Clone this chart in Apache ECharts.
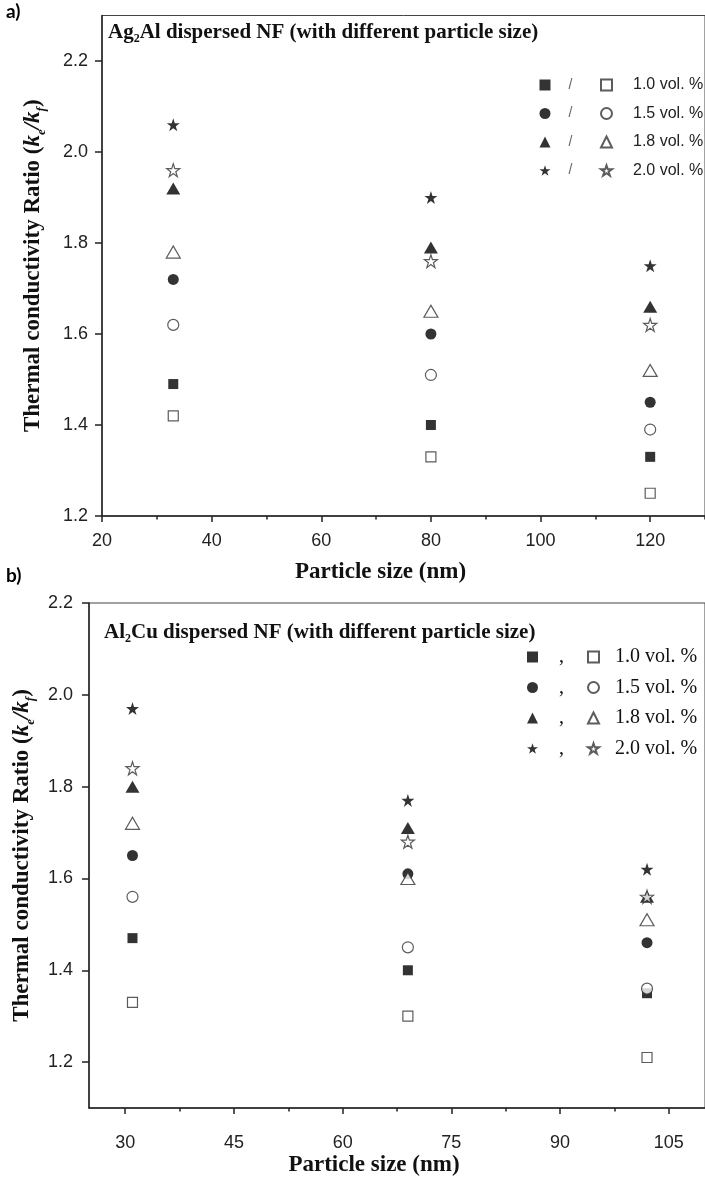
<!DOCTYPE html>
<html><head><meta charset="utf-8">
<script src="https://cdn.jsdelivr.net/npm/echarts@6/dist/echarts.min.js"></script>
<style>html,body{margin:0;padding:0;background:#fff}#c{width:705px;height:1178px}</style>
</head><body><div id="c"></div>
<script>
// ---------- Panel a) Ag2Al ----------
const sizesA = [33, 80, 120];
const aFill10 = [1.49, 1.40, 1.33];
const aFill15 = [1.72, 1.60, 1.45];
const aFill18 = [1.92, 1.79, 1.66];
const aFill20 = [2.06, 1.90, 1.75];
const aOpen10 = [1.42, 1.33, 1.25];
const aOpen15 = [1.62, 1.51, 1.39];
const aOpen18 = [1.78, 1.65, 1.52];
const aOpen20 = [1.96, 1.76, 1.62];
const aXTicks = [20, 40, 60, 80, 100, 120];
const aXMinor = [30, 50, 70, 90, 110, 130];
const aYTicks = [1.2, 1.4, 1.6, 1.8, 2.0, 2.2];
const aYMinor = [1.3, 1.5, 1.7, 1.9, 2.1, 2.3];

// ---------- Panel b) Al2Cu ----------
const sizesB = [31, 69, 102];
const bFill10 = [1.47, 1.40, 1.35];
const bFill15 = [1.65, 1.61, 1.46];
const bFill18 = [1.80, 1.71, 1.56];
const bFill20 = [1.97, 1.77, 1.62];
const bOpen10 = [1.33, 1.30, 1.21];
const bOpen15 = [1.56, 1.45, 1.36];
const bOpen18 = [1.72, 1.60, 1.51];
const bOpen20 = [1.84, 1.68, 1.56];
const bXTicks = [30, 45, 60, 75, 90, 105];
const bXMinor = [37.5, 52.5, 67.5, 82.5, 97.5];
const bYTicks = [1.2, 1.4, 1.6, 1.8, 2.0, 2.2];
const bYMinor = [1.1, 1.3, 1.5, 1.7, 1.9, 2.1];

const concs = ['1.0', '1.5', '1.8', '2.0'];

const STAR = 'path://M50,0 L61.8,35.3 L99,35.3 L69,57.3 L80.4,92.7 L50,70.8 L19.6,92.7 L31,57.3 L1,35.3 L38.2,35.3 Z';
const symbols = ['rect', 'circle', 'triangle', STAR];
const symSizes = [10, 11, [14, 12], 13];

const fillsA = [aFill10, aFill15, aFill18, aFill20];
const opensA = [aOpen10, aOpen15, aOpen18, aOpen20];
const fillsB = [bFill10, bFill15, bFill18, bFill20];
const opensB = [bOpen10, bOpen15, bOpen18, bOpen20];

function mkSeries(prefix, sizes, fills, opens, xi, yi) {
  const out = [];
  concs.forEach((c, i) => {
    out.push({
      name: 'f' + prefix + c, type: 'scatter', xAxisIndex: xi, yAxisIndex: yi,
      symbol: symbols[i], symbolSize: symSizes[i],
      itemStyle: { color: '#000', borderColor: '#000', borderWidth: 0 },
      data: sizes.map((s, k) => [s, fills[i][k]]), z: 3
    });
    out.push({
      name: 'o' + prefix + c, type: 'scatter', xAxisIndex: xi, yAxisIndex: yi,
      symbol: symbols[i], symbolSize: symSizes[i],
      itemStyle: { color: '#fff', borderColor: '#333', borderWidth: 1.2 },
      data: sizes.map((s, k) => [s, opens[i][k]]), z: 4
    });
  });
  return out;
}

const sansLbl = { fontFamily: 'Liberation Sans', fontSize: 18, color: '#222' };
const lineStyle = { color: '#222', width: 1.5 };

function mainX(grid, min, max, ticks, margin, gap) {
  return {
    type: 'value', gridIndex: grid, min: min, max: max, position: 'bottom',
    axisLine: { show: true, onZero: false, lineStyle: lineStyle },
    axisTick: { show: true, length: 6, customValues: ticks, lineStyle: lineStyle },
    axisLabel: Object.assign({ customValues: ticks, margin: margin, formatter: v => String(v) }, sansLbl),
    splitLine: { show: false },
    name: 'Particle size (nm)', nameLocation: 'middle', nameGap: gap,
    nameTextStyle: { fontFamily: 'Liberation Serif', fontWeight: 'bold', fontSize: 23, color: '#111', padding: [0, 46, 0, 0] }
  };
}
function minorX(grid, min, max, ticks) {
  return {
    type: 'value', gridIndex: grid, min: min, max: max, position: 'bottom',
    axisLine: { show: false }, axisLabel: { show: false }, splitLine: { show: false },
    axisTick: { show: true, length: 3.5, customValues: ticks, lineStyle: lineStyle }
  };
}
const yName = '{t|Thermal conductivity Ratio }{t|(}{k|k}{s|e}{k|/k}{s|f}{t|)}';
const yRich = {
  t: { fontFamily: 'Liberation Serif', fontWeight: 'bold', fontSize: 23, color: '#111', lineHeight: 30 },
  k: { fontFamily: 'Liberation Serif', fontWeight: 'bold', fontStyle: 'italic', fontSize: 23, color: '#111', lineHeight: 30 },
  s: { fontFamily: 'Liberation Serif', fontWeight: 'bold', fontStyle: 'italic', fontSize: 13, color: '#111', verticalAlign: 'bottom', lineHeight: 30 }
};
function mainY(grid, min, max, ticks, gap, margin) {
  return {
    type: 'value', gridIndex: grid, min: min, max: max,
    axisLine: { show: true, onZero: false, lineStyle: lineStyle },
    axisTick: { show: true, length: 7, customValues: ticks, lineStyle: lineStyle },
    axisLabel: Object.assign({ customValues: ticks, margin: margin, formatter: v => v.toFixed(1) }, sansLbl),
    splitLine: { show: false },
    name: yName, nameLocation: 'middle', nameGap: gap,
    nameTextStyle: { rich: yRich }
  };
}
function minorY(grid, min, max, ticks) {
  return {
    type: 'value', gridIndex: grid, min: min, max: max,
    axisLine: { show: false }, axisLabel: { show: false }, splitLine: { show: false },
    axisTick: { show: true, length: 3.5, customValues: ticks, lineStyle: lineStyle }
  };
}

const legendText = { fontFamily: 'Liberation Sans', fontSize: 16, color: '#222', lineHeight: 16 };
const legendSerif = { fontFamily: 'Liberation Serif', fontSize: 20, color: '#111', lineHeight: 18 };

const titleRich = {
  b: { fontFamily: 'Liberation Serif', fontWeight: 'bold', fontSize: 21, color: '#111', lineHeight: 24 },
  s: { fontFamily: 'Liberation Serif', fontWeight: 'bold', fontSize: 12, color: '#111', verticalAlign: 'bottom', lineHeight: 24 }
};

const option = {
  backgroundColor: '#fff',
  animation: false,
  title: [
    { text: '{b|Ag}{s|2}{b|Al dispersed NF (with different particle size)}', left: 108, top: 21, padding: 0, textStyle: { rich: titleRich } },
    { text: '{b|Al}{s|2}{b|Cu dispersed NF (with different particle size)}', left: 104, top: 621, padding: 0, textStyle: { rich: titleRich } }
  ],
  graphic: [
    { type: 'text', left: 6, top: 2, style: { text: 'a)', font: 'bold 19px Lato', fill: '#000' } },
    { type: 'text', left: 6, top: 566, style: { text: 'b)', font: 'bold 19px Lato', fill: '#000' } }
  ],
  grid: [
    { left: 102, top: 15.5, width: 610, height: 500.5, show: true, borderColor: '#444', borderWidth: 1 },
    { left: 89, top: 603, width: 626.5, height: 507, show: true, borderColor: '#444', borderWidth: 1 }
  ],
  xAxis: [
    mainX(0, 20, 130, aXTicks, 16, 45),
    minorX(0, 20, 130, aXMinor),
    mainX(1, 25, 110, bXTicks, 26, 46),
    minorX(1, 25, 110, bXMinor)
  ],
  yAxis: [
    mainY(0, 1.2, 2.3, aYTicks, 54, 14),
    minorY(0, 1.2, 2.3, aYMinor),
    mainY(1, 1.1, 2.2, bYTicks, 47, 16),
    minorY(1, 1.1, 2.2, bYMinor)
  ],
  legend: [
    { data: concs.map(c => 'fA' + c), orient: 'vertical', left: 539.5, top: 77, padding: 0, itemWidth: 11, itemHeight: 11, itemGap: 12.5,
      selectedMode: false, formatter: () => '/', textStyle: Object.assign({}, legendText, { fontSize: 14, color: '#666', padding: [0, 0, 0, 13] }) },
    { data: concs.map(c => 'oA' + c), orient: 'vertical', left: 600, top: 77, padding: 0, itemWidth: 11, itemHeight: 11, itemGap: 12.5,
      selectedMode: false, formatter: n => n.slice(2) + ' vol. %', textStyle: Object.assign({}, legendText, { padding: [0, 0, 0, 16] }) },
    { data: concs.map(c => 'fB' + c), orient: 'vertical', left: 527, top: 647, padding: 0, itemWidth: 11, itemHeight: 11, itemGap: 10.5,
      selectedMode: false, formatter: () => ',', textStyle: Object.assign({}, legendSerif, { padding: [0, 0, 0, 16] }) },
    { data: concs.map(c => 'oB' + c), orient: 'vertical', left: 587, top: 647, padding: 0, itemWidth: 11, itemHeight: 11, itemGap: 10.5,
      selectedMode: false, formatter: n => n.slice(2) + ' vol. %', textStyle: Object.assign({}, legendSerif, { padding: [0, 0, 0, 11] }) }
  ],
  series: [].concat(
    mkSeries('A', sizesA, fillsA, opensA, 0, 0),
    mkSeries('B', sizesB, fillsB, opensB, 2, 2)
  )
};

const chart = echarts.init(document.getElementById('c'), null, { renderer: 'canvas' });
chart.setOption(option);
</script>
</body></html>
